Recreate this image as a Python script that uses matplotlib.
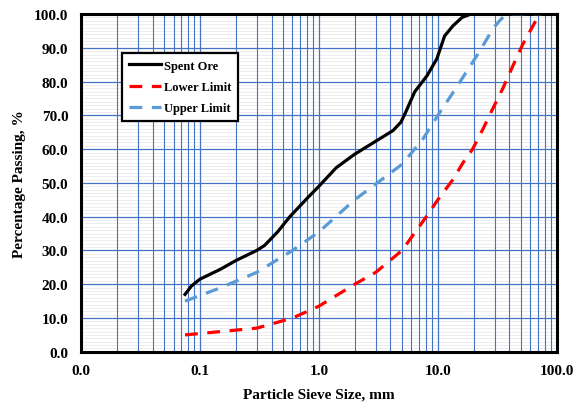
import numpy as np
import matplotlib
matplotlib.use('Agg')
import matplotlib.pyplot as plt
from matplotlib.ticker import LogLocator, MultipleLocator, FormatStrFormatter

plt.rcParams['font.family'] = ['Liberation Serif', 'DejaVu Serif']
plt.rcParams['font.weight'] = 'bold'

# Spent ore size distribution (mm, % passing)
ore_size = [0.075, 0.085, 0.1, 0.15, 0.2, 0.3, 0.35, 0.45, 0.57, 0.8, 1.0, 1.4,
            2.0, 2.9, 4.2, 4.9, 5.3, 6.4, 8.1, 9.8, 11.4, 13.4, 16.0, 19.0, 75.0]
ore_pass = [17.0, 19.5, 21.5, 24.5, 27.0, 30.0, 31.5, 35.5, 40.0, 45.5, 49.0, 54.5,
            58.5, 62.0, 65.5, 68.0, 70.5, 77.0, 81.7, 86.7, 93.5, 96.5, 99.0, 100.0, 100.0]

# Envelope limits
lower_size = [0.075, 0.15, 0.3, 0.6, 1.0, 2.0, 3.0, 5.0, 8.0, 10.0, 13.4, 16.3,
              19.6, 24.0, 29.0, 35.0, 42.7, 51.7, 67.8, 75.0]
lower_pass = [5.0, 6.0, 7.0, 10.0, 13.5, 20.0, 23.5, 30.0, 40.0, 45.0, 51.0, 56.0,
              60.0, 66.0, 72.0, 77.8, 84.6, 91.0, 98.5, 100.0]

upper_size = [0.075, 0.15, 0.3, 0.6, 1.0, 2.0, 5.0, 7.5, 10.0, 13.0, 17.5, 22.5,
              29.0, 33.0, 37.5, 75.0]
upper_pass = [15.0, 19.0, 23.5, 30.0, 35.5, 45.0, 55.5, 63.0, 70.0, 76.0, 83.0, 89.0,
              95.6, 98.0, 100.0, 100.0]

fig = plt.figure(figsize=(5.74, 4.06), dpi=100)
ax = fig.add_axes([0.141, 0.131, 0.829, 0.832])

ax.plot(ore_size, ore_pass, color='black', lw=2.3, label='Spent Ore', zorder=4)
ax.plot(lower_size, lower_pass, color='#FF0000', lw=2.3, ls=(0, (4, 3)),
        label='Lower Limit', zorder=3)
ax.plot(upper_size, upper_pass, color='#5B9BD5', lw=2.3, ls=(0, (4, 3)),
        label='Upper Limit', zorder=3)

ax.set_xscale('log')
ax.set_xlim(0.01, 100)
ax.set_ylim(0, 100)
ax.xaxis.set_major_locator(LogLocator(base=10, numticks=10))
ax.xaxis.set_minor_locator(LogLocator(base=10, subs=np.arange(2, 10), numticks=20))
ax.xaxis.set_major_formatter(FormatStrFormatter('%.1f'))
ax.yaxis.set_major_locator(MultipleLocator(10))
ax.yaxis.set_major_formatter(FormatStrFormatter('%.1f'))

# faint minor horizontal lines underneath the blue grid
for yv in range(1, 100):
    if yv % 10:
        ax.axhline(yv, color='#E6E6E6', lw=0.5, zorder=0.1)

ax.grid(which='major', axis='both', color='#4472C4', lw=0.9)
ax.grid(which='minor', axis='x', color='#4472C4', lw=0.8)
ax.set_axisbelow(True)

ax.tick_params(which='both', length=0, labelsize=11, pad=9)
for lab in ax.get_xticklabels() + ax.get_yticklabels():
    lab.set_fontweight('bold')
for sp in ax.spines.values():
    sp.set_linewidth(2.2)
    sp.set_color('black')

ax.set_xlabel('Particle Sieve Size, mm', fontsize=11, fontweight='bold', labelpad=7)
ax.set_ylabel('Percentage Passing, %', fontsize=11, fontweight='bold', labelpad=6)

leg = ax.legend(loc='upper left', bbox_to_anchor=(0.086, 0.885), borderaxespad=0,
                fancybox=False, framealpha=1, edgecolor='black',
                prop={'weight': 'bold', 'size': 9}, handlelength=2.6,
                handletextpad=0.2, labelspacing=0.75, borderpad=0.55)
leg.get_frame().set_linewidth(1.6)

fig.savefig('out.png', dpi=100)
